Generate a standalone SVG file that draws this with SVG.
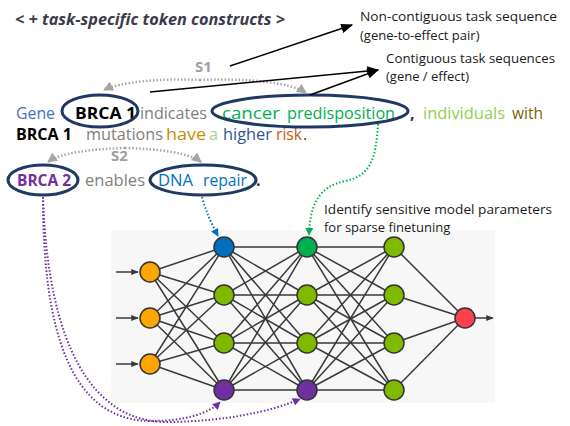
<svg xmlns="http://www.w3.org/2000/svg" width="570" height="426" viewBox="0 0 570 426">
<style>
text{font-family:"Open Sans","Liberation Sans",sans-serif}
.main{font-size:16px}
.b{font-weight:bold}
.lbl{font-size:13px;fill:#1a1a1a}
.ell{fill:none;stroke:#1F3864;stroke-width:3}
.node{stroke:#333;stroke-width:1.5}
.edge{stroke:#3a3a3a;stroke-width:1.5;fill:none}
.dotg{fill:none;stroke:#a6a6a6;stroke-width:2.5;stroke-dasharray:1.5 2}
.dot{fill:none;stroke-width:2;stroke-dasharray:1.5 2}
</style>
<defs>
<marker id="ab" viewBox="0 0 10 10" refX="9" refY="5" markerWidth="8" markerHeight="8" orient="auto"><path d="M0,1 L10,5 L0,9 z" fill="#000"/></marker>
<marker id="ag" viewBox="0 0 10 10" refX="9" refY="5" markerWidth="4" markerHeight="4" orient="auto"><path d="M0,0 L10,5 L0,10 z" fill="#a6a6a6"/></marker>
<marker id="agr" viewBox="0 0 10 10" refX="9" refY="5" markerWidth="4" markerHeight="4" orient="auto"><path d="M0,0 L10,5 L0,10 z" fill="#00B050"/></marker>
<marker id="abl" viewBox="0 0 10 10" refX="9" refY="5" markerWidth="4" markerHeight="4" orient="auto"><path d="M0,0 L10,5 L0,10 z" fill="#0070C0"/></marker>
<marker id="apu" viewBox="0 0 10 10" refX="9" refY="5" markerWidth="4" markerHeight="4" orient="auto"><path d="M0,0 L10,5 L0,10 z" fill="#7030A0"/></marker>
<marker id="ad" viewBox="0 0 10 10" refX="9" refY="5" markerWidth="5" markerHeight="5" orient="auto"><path d="M0,1 L10,5 L0,9 z" fill="#3a3a3a"/></marker>
</defs>

<rect x="111" y="230" width="384" height="173" fill="#f7f7f7"/>

<g id="title"><text x="15" y="25" font-size="16" font-weight="bold" font-style="italic" fill="#3b3b4b" textLength="270" lengthAdjust="spacingAndGlyphs">&lt; + task-specific token constructs &gt;</text></g>

<g id="label-noncontig">
<text class="lbl" x="360" y="21" textLength="197" lengthAdjust="spacingAndGlyphs">Non-contiguous task sequence</text>
<text class="lbl" x="360" y="40">(gene-to-effect pair)</text>
</g>
<g id="label-contig">
<text class="lbl" x="386" y="63" textLength="169" lengthAdjust="spacingAndGlyphs">Contiguous task sequences</text>
<text class="lbl" x="386" y="81">(gene / effect)</text>
</g>
<g id="label-identify">
<text class="lbl" x="324" y="214" textLength="228" lengthAdjust="spacingAndGlyphs">Identify sensitive model parameters</text>
<text class="lbl" x="324" y="232">for sparse finetuning</text>
</g>

<g id="s1"><text x="195" y="72" font-size="15" font-weight="bold" fill="#a0a0a0">S1</text></g>
<g id="s2"><text x="111" y="161" font-size="15" font-weight="bold" fill="#a0a0a0">S2</text></g>

<g id="sentence1" class="main">
<text x="16" y="119" fill="#4472C4" textLength="39" lengthAdjust="spacingAndGlyphs">Gene</text>
<text x="75" y="119" class="b" fill="#000" textLength="61" lengthAdjust="spacingAndGlyphs">BRCA 1</text>
<text x="140" y="119" fill="#808080" textLength="67" lengthAdjust="spacingAndGlyphs">indicates</text>
<text x="222" y="119" fill="#00B050" textLength="58" lengthAdjust="spacingAndGlyphs">cancer</text>
<text x="287" y="119" fill="#00B050" textLength="108" lengthAdjust="spacingAndGlyphs">predisposition</text>
<text x="410" y="119" class="b" fill="#333">,</text>
<text x="423" y="119" fill="#92D050" textLength="82" lengthAdjust="spacingAndGlyphs">individuals</text>
<text x="512" y="119" fill="#7F6000" textLength="31" lengthAdjust="spacingAndGlyphs">with</text>
</g>
<g id="sentence2" class="main">
<text x="16" y="140" class="b" fill="#000" textLength="56" lengthAdjust="spacingAndGlyphs">BRCA 1</text>
<text x="86" y="140" fill="#808080" textLength="77" lengthAdjust="spacingAndGlyphs">mutations</text>
<text x="166" y="140" fill="#BF9000" textLength="40" lengthAdjust="spacingAndGlyphs">have</text>
<text x="209" y="140" fill="#A9D18E" textLength="9" lengthAdjust="spacingAndGlyphs">a</text>
<text x="223" y="140" fill="#2F5597" textLength="49" lengthAdjust="spacingAndGlyphs">higher</text>
<text x="276" y="140" fill="#C55A11" textLength="26" lengthAdjust="spacingAndGlyphs">risk</text>
<text x="303" y="140" fill="#333">.</text>
</g>
<g id="sentence3" class="main">
<text x="17" y="186" class="b" fill="#7030A0" textLength="54" lengthAdjust="spacingAndGlyphs">BRCA 2</text>
<text x="85" y="186" fill="#808080" textLength="60" lengthAdjust="spacingAndGlyphs">enables</text>
<text x="158" y="186" fill="#0070C0" textLength="35" lengthAdjust="spacingAndGlyphs">DNA</text>
<text x="203" y="186" fill="#0070C0" textLength="44" lengthAdjust="spacingAndGlyphs">repair</text>
<text x="256" y="186" class="b" fill="#333">.</text>
</g>

<g id="ellipse-brca1"><ellipse class="ell" cx="100" cy="111" rx="38" ry="16"/></g>
<g id="ellipse-cancer"><ellipse class="ell" cx="310" cy="111" rx="98" ry="16"/></g>
<g id="ellipse-brca2"><ellipse class="ell" cx="43" cy="180" rx="35" ry="15"/></g>
<g id="ellipse-dna"><ellipse class="ell" cx="203" cy="180" rx="53" ry="15"/></g>

<g id="connectors">
<path class="dotg" d="M200,80 C160,78 120,82 104,90" marker-end="url(#ag)"/>
<path class="dotg" d="M200,80 C245,78 290,82 306,93" marker-end="url(#ag)"/>
<path class="dotg" d="M125,148 C90,149 60,153 48,162" marker-end="url(#ag)"/>
<path class="dotg" d="M125,148 C160,149 190,153 201,162" marker-end="url(#ag)"/>
<line x1="230" y1="66" x2="352" y2="25" stroke="#000" stroke-width="1.5" marker-end="url(#ab)"/>
<line x1="150" y1="92" x2="378" y2="70" stroke="#000" stroke-width="1.5" marker-end="url(#ab)"/>
<line x1="310" y1="95" x2="378" y2="70" stroke="#000" stroke-width="1.5" marker-end="url(#ab)"/>
<path class="dot" stroke="#00B050" d="M378,124 C376,160 370,176 345,181 C318,187 310,205 309,235" marker-end="url(#agr)"/>
<path class="dot" stroke="#0070C0" d="M202,197 C206,212 212,225 218,236" marker-end="url(#abl)"/>
<path class="dot" stroke="#7030A0" d="M43,197 C43,330 70,420 150,421 C185,421 208,414 220,402" marker-end="url(#apu)"/>
<path class="dot" stroke="#7030A0" d="M43,197 C48,345 92,424 170,422 C225,421 270,412 300,399" marker-end="url(#apu)"/>
<path class="edge" d="M150,272L224,247M150,272L224,295M150,272L224,343M150,272L224,390M150,318L224,247M150,318L224,295M150,318L224,343M150,318L224,390M150,364L224,247M150,364L224,295M150,364L224,343M150,364L224,390
M224,247L307,247M224,247L307,295M224,247L307,343M224,247L307,390M224,295L307,247M224,295L307,295M224,295L307,343M224,295L307,390M224,343L307,247M224,343L307,295M224,343L307,343M224,343L307,390M224,390L307,247M224,390L307,295M224,390L307,343M224,390L307,390
M307,247L394,247M307,247L394,295M307,247L394,343M307,247L394,390M307,295L394,247M307,295L394,295M307,295L394,343M307,295L394,390M307,343L394,247M307,343L394,295M307,343L394,343M307,343L394,390M307,390L394,247M307,390L394,295M307,390L394,343M307,390L394,390
M394,247L465,318M394,295L465,318M394,343L465,318M394,390L465,318"/>
<line class="edge" x1="116" y1="272" x2="138" y2="272" stroke-width="2" marker-end="url(#ad)"/>
<line class="edge" x1="116" y1="318" x2="138" y2="318" stroke-width="2" marker-end="url(#ad)"/>
<line class="edge" x1="116" y1="364" x2="138" y2="364" stroke-width="2" marker-end="url(#ad)"/>
<line class="edge" x1="475" y1="318" x2="493" y2="318" stroke-width="1.5" marker-end="url(#ad)"/>
</g>

<g id="in1"><circle class="node" cx="150" cy="272" r="10" fill="#FFA500"/></g>
<g id="in2"><circle class="node" cx="150" cy="318" r="10" fill="#FFA500"/></g>
<g id="in3"><circle class="node" cx="150" cy="364" r="10" fill="#FFA500"/></g>
<g id="h1a"><circle class="node" cx="224" cy="247" r="10" fill="#0070C0"/></g>
<g id="h1b"><circle class="node" cx="224" cy="295" r="10" fill="#7FBA00"/></g>
<g id="h1c"><circle class="node" cx="224" cy="343" r="10" fill="#7FBA00"/></g>
<g id="h1d"><circle class="node" cx="224" cy="390" r="10" fill="#7030A0"/></g>
<g id="h2a"><circle class="node" cx="307" cy="247" r="10" fill="#00B050"/></g>
<g id="h2b"><circle class="node" cx="307" cy="295" r="10" fill="#7FBA00"/></g>
<g id="h2c"><circle class="node" cx="307" cy="343" r="10" fill="#7FBA00"/></g>
<g id="h2d"><circle class="node" cx="307" cy="390" r="10" fill="#7030A0"/></g>
<g id="h3a"><circle class="node" cx="394" cy="247" r="10" fill="#7FBA00"/></g>
<g id="h3b"><circle class="node" cx="394" cy="295" r="10" fill="#7FBA00"/></g>
<g id="h3c"><circle class="node" cx="394" cy="343" r="10" fill="#7FBA00"/></g>
<g id="h3d"><circle class="node" cx="394" cy="390" r="10" fill="#7FBA00"/></g>
<g id="out"><circle class="node" cx="465" cy="318" r="10" fill="#FF4050"/></g>
</svg>
